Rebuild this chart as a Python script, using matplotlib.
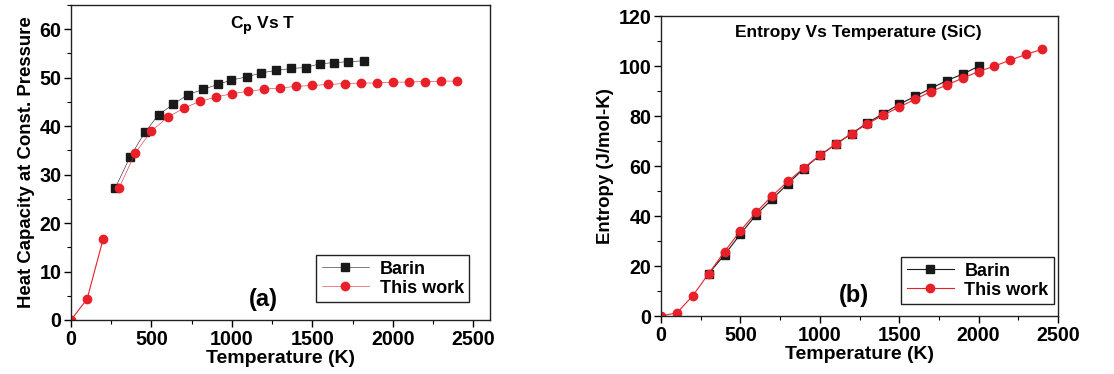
import numpy as np
import matplotlib
matplotlib.use('Agg')
import matplotlib.pyplot as plt
from matplotlib.ticker import MultipleLocator

plt.rcParams['font.family'] = ['Liberation Sans', 'DejaVu Sans']
plt.rcParams['font.weight'] = 'bold'

# datos (a) Cp vs T
t_barin_cp = [275, 366, 459, 545, 636, 725, 822, 911, 996, 1095, 1184, 1275, 1368, 1459, 1548, 1634, 1723, 1820]
cp_barin = [27.2, 33.6, 38.7, 42.4, 44.5, 46.5, 47.6, 48.6, 49.5, 50.2, 51.0, 51.5, 51.9, 52.1, 52.9, 53.1, 53.3, 53.5]

t_work = [0, 100, 200, 300, 400, 500, 600, 700, 800, 900, 1000, 1100, 1200,
          1300, 1400, 1500, 1600, 1700, 1800, 1900, 2000, 2100, 2200, 2300, 2400]
cp_work = [0, 4.3, 16.7, 27.3, 34.5, 39.0, 41.8, 43.7, 45.1, 46.0, 46.7, 47.2, 47.6,
           47.9, 48.2, 48.4, 48.6, 48.8, 48.9, 48.9, 49.1, 49.1, 49.2, 49.3, 49.3]

# datos (b) entropia
t_barin_s = [300, 400, 500, 600, 700, 800, 900, 1000, 1100, 1200, 1300, 1400, 1500, 1600, 1700, 1800, 1900, 2000]
s_barin = [17.0, 24.5, 32.8, 40.6, 46.8, 53.0, 59.0, 64.3, 68.7, 73.0, 77.3, 81.0, 84.7, 87.9, 91.1, 94.2, 96.8, 99.9]
s_work = [0, 1.3, 8.1, 17.0, 25.8, 34.1, 41.6, 48.1, 53.9, 59.3, 64.3, 68.7, 73.0,
          76.9, 80.4, 83.6, 86.7, 89.8, 92.4, 95.2, 97.8, 100.0, 102.4, 104.7, 106.7]

rojo = '#e8202a'
negro = '#1a1a1a'

fig = plt.figure(figsize=(11.14, 3.74), dpi=100)
ax1 = fig.add_axes([0.0637, 0.1444, 0.3763, 0.8422])
ax2 = fig.add_axes([0.5934, 0.155, 0.3563, 0.802])


def estilo(ax):
    for sp in ax.spines.values():
        sp.set_linewidth(1.0)
        sp.set_color('#222222')
    ax.tick_params(which='major', direction='out', length=5, width=1, labelsize=14.2,
                   top=False, right=False, pad=2)
    ax.tick_params(which='minor', direction='out', length=3, width=0.8, top=False, right=False)
    for lab in ax.get_xticklabels() + ax.get_yticklabels():
        lab.set_fontweight('bold')


def leyenda(ax, anchor):
    leg = ax.legend(loc='lower right', bbox_to_anchor=anchor, fancybox=False, edgecolor='#222222',
                    framealpha=1, prop={'weight': 'bold', 'size': 13}, handlelength=2.6,
                    borderpad=0.3, labelspacing=0.1, handletextpad=0.6, borderaxespad=0)
    leg.get_frame().set_linewidth(1.0)


# (a)
ax1.plot(t_barin_cp, cp_barin, color=negro, marker='s', ms=5.3, lw=0.4, label='Barin')
ax1.plot(t_work[:3], cp_work[:3], color=rojo, marker='o', ms=6, lw=0.8)
ax1.plot(t_work[3:], cp_work[3:], color=rojo, marker='o', ms=6, lw=0.4, label='This work')
ax1.set_xlim(0, 2605)
ax1.set_ylim(0, 65)
ax1.xaxis.set_major_locator(MultipleLocator(500))
ax1.xaxis.set_minor_locator(MultipleLocator(250))
ax1.yaxis.set_major_locator(MultipleLocator(10))
ax1.yaxis.set_minor_locator(MultipleLocator(5))
ax1.set_xlabel('Temperature (K)', fontsize=14, fontweight='bold', labelpad=1)
ax1.set_ylabel('Heat Capacity at Const. Pressure', fontsize=13.4, fontweight='bold', labelpad=3)
ax1.text(0.458, 0.935, r'C$_\mathbf{p}$ Vs T', transform=ax1.transAxes, ha='center', va='center',
         fontsize=12.5, fontweight='bold')
ax1.text(0.458, 0.065, '(a)', transform=ax1.transAxes, ha='center', va='center',
         fontsize=17, fontweight='bold')
estilo(ax1)
leyenda(ax1, (0.95, 0.057))

# (b)
ax2.plot(t_barin_s, s_barin, color=negro, marker='s', ms=5.3, lw=0.8, label='Barin')
ax2.plot(t_work, s_work, color=rojo, marker='o', ms=6, lw=0.8, label='This work')
ax2.set_xlim(0, 2500)
ax2.set_ylim(0, 120)
ax2.xaxis.set_major_locator(MultipleLocator(500))
ax2.xaxis.set_minor_locator(MultipleLocator(250))
ax2.yaxis.set_major_locator(MultipleLocator(20))
ax2.yaxis.set_minor_locator(MultipleLocator(10))
ax2.set_xlabel('Temperature (K)', fontsize=14, fontweight='bold', labelpad=1)
ax2.set_ylabel('Entropy (J/mol-K)', fontsize=13.4, fontweight='bold', labelpad=3)
ax2.text(0.496, 0.945, 'Entropy Vs Temperature (SiC)', transform=ax2.transAxes, ha='center',
         va='center', fontsize=12.5, fontweight='bold')
ax2.text(0.486, 0.07, '(b)', transform=ax2.transAxes, ha='center', va='center',
         fontsize=17, fontweight='bold')
estilo(ax2)
leyenda(ax2, (0.99, 0.04))

fig.savefig('out.png', dpi=100)
